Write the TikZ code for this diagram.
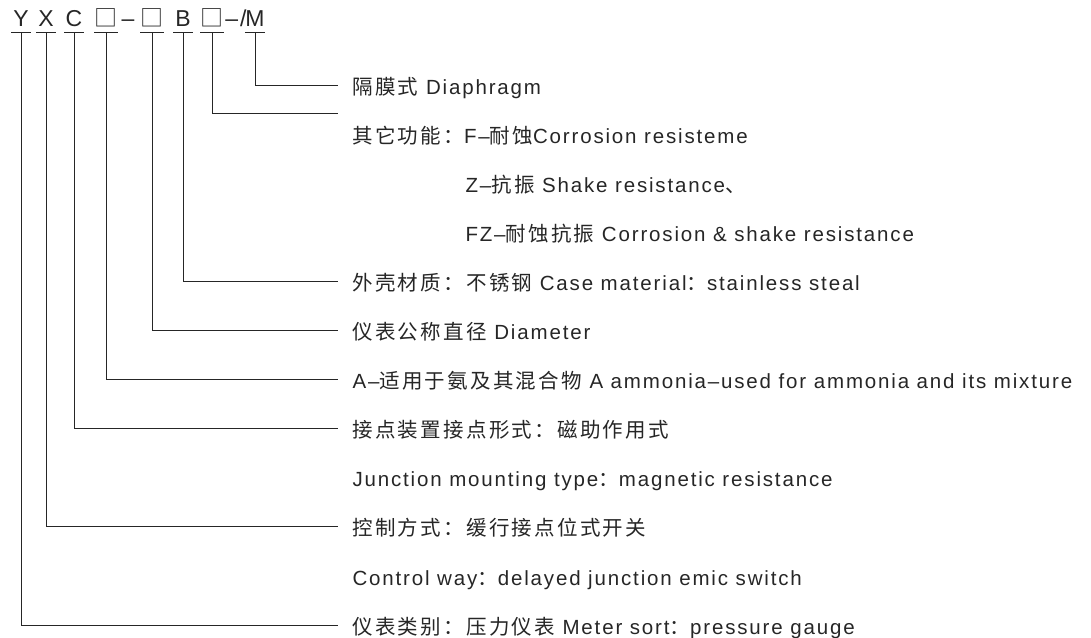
\documentclass[tikz,border=0pt]{standalone}
\usepackage{fontspec}
\setmainfont{Liberation Sans}[LetterSpace=9]
\newfontfamily\cjk{Noto Sans CJK SC}[LetterSpace=11]
\usetikzlibrary{positioning}
\newcommand{\zh}[1]{{\cjk #1}}

\begin{document}
\begin{tikzpicture}[x=1pt,y=-1pt,line width=1pt,color=black!85]
      \tikzstyle{head}=[inner sep=0pt,minimum width=19pt,text height=17pt,text depth=5pt,font=\fontsize{23}{26}\selectfont,anchor=base]
      \tikzstyle{item}=[inner sep=0pt,anchor=base west,font=\fontsize{20.5}{24}\selectfont]
      \useasboundingbox (0,0) rectangle (1091,637);

      % model code
      \node[head] (Y) at (21,27) {Y};
      \node[head] (X) at (46,27) {X};
      \node[head] (C) at (74,27) {C};
      \node[head] (S1) at (106,27) {\zh{□}};
      \node[head,minimum width=0pt] (dash) at (128,27) {–};
      \node[head] (S2) at (152,27) {\zh{□}};
      \node[head] (B) at (183,27) {B};
      \node[head] (S3) at (212,27) {\zh{□}};
      \node[head,minimum width=0pt] (slash) at (236,27) {–/};
      \node[head] (M) at (255,27) {M};

      \foreach \n in {Y,X,C,S1,S2,B,S3,M}
        \draw (\n.south west) -- (\n.south east);

      % explanations
      \node[item] (diaphragm) at (352,94) {\zh{隔膜式} Diaphragm};
      \node[item] (func) at ([yshift=-49.1pt]diaphragm.base west) {\zh{其它功能：}F–\zh{耐蚀}Corrosion resisteme};
      \node[item] (funcZ) at ([xshift=113pt,yshift=-49.1pt]func.base west) {Z–\zh{抗振} Shake resistance\zh{、}};
      \node[item] (funcFZ) at ([yshift=-49.1pt]funcZ.base west) {FZ–\zh{耐蚀抗振} Corrosion \& shake resistance};
      \node[item] (casemat) at ([xshift=-113pt,yshift=-49.1pt]funcFZ.base west) {\zh{外壳材质：不锈钢} Case material\zh{：}stainless steal};
      \node[item] (diam) at ([yshift=-49.1pt]casemat.base west) {\zh{仪表公称直径} Diameter};
      \node[item] (ammonia) at ([yshift=-49.1pt]diam.base west) {A–\zh{适用于氨及其混合物} A ammonia–used for ammonia and its mixture};
      \node[item] (contact) at ([yshift=-49.1pt]ammonia.base west) {\zh{接点装置接点形式：磁助作用式}};
      \node[item] (junction) at ([yshift=-49.1pt]contact.base west) {Junction mounting type\zh{：}magnetic resistance};
      \node[item] (control) at ([yshift=-49.1pt]junction.base west) {\zh{控制方式：缓行接点位式开关}};
      \node[item] (controlway) at ([yshift=-49.1pt]control.base west) {Control way\zh{：}delayed junction emic switch};
      \node[item] (sort) at ([yshift=-49.1pt]controlway.base west) {\zh{仪表类别：压力仪表} Meter sort\zh{：}pressure gauge};

      \draw (M.south) |- ([xshift=-14pt,yshift=9pt]diaphragm.base west);
      \draw (S3.south) |- ([xshift=-14pt,yshift=30pt]func.base west);
      \draw (B.south) |- ([xshift=-14pt,yshift=9pt]casemat.base west);
      \draw (S2.south) |- ([xshift=-14pt,yshift=9pt]diam.base west);
      \draw (S1.south) |- ([xshift=-14pt,yshift=9pt]ammonia.base west);
      \draw (C.south) |- ([xshift=-14pt,yshift=9pt]contact.base west);
      \draw (X.south) |- ([xshift=-14pt,yshift=9pt]control.base west);
      \draw (Y.south) |- ([xshift=-14pt,yshift=9pt]sort.base west);
    \end{tikzpicture}
\end{document}
